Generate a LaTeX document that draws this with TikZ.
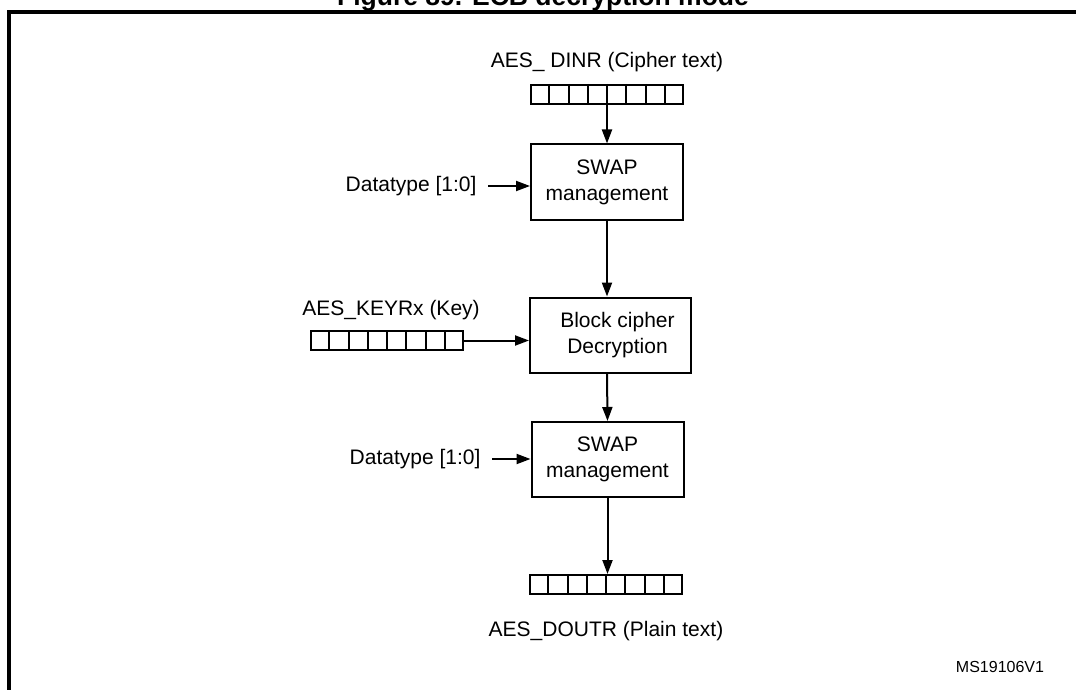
\documentclass[tikz,border=0pt]{standalone}
\usepackage{fontspec}
\setmainfont{Liberation Sans}
\usetikzlibrary{arrows.meta,positioning,calc}

\begin{document}
\begin{tikzpicture}[
  x=1pt, y=-1pt,
  font=\fontsize{21}{26}\selectfont,
  block/.style={rectangle, draw, line width=2pt, minimum width=152pt, minimum height=75pt, align=center, inner sep=0pt},
  reg/.style={rectangle, draw, line width=2pt, minimum width=152pt, minimum height=19pt, inner sep=0pt},
  flow/.style={draw, line width=2pt, -{Triangle[length=14pt,width=10pt]}}
]
  \clip (0,0) rectangle (1076,690);
  % frame and title
  \node[anchor=base, font=\bfseries\fontsize{26.5}{30}\selectfont] (title) at (543,6) {Figure 89. ECB decryption mode};
  \draw[line width=3.5pt] (1080,12) -- (9,12) -- (9,695);

  % registers
  \node[reg] (dinr) at (607,94.5) {};
  \node[reg] (keyr) at (387,340.5) {};
  \node[reg] (doutr) at (606,584.5) {};
  \foreach \r in {dinr,keyr,doutr}
    \foreach \i in {1,...,7}
      \draw[line width=2pt] ($(\r.north west)!\i/8!(\r.north east)$) -- ($(\r.south west)!\i/8!(\r.south east)$);

  \node (dinrlbl) at (607,62) {AES\_ DINR (Cipher text)};
  \node (keylbl) at (391,310) {AES\_KEYRx (Key)};
  \node (doutlbl) at (606,631) {AES\_DOUTR (Plain text)};

  % blocks
  \node[block] (swapA) at (607,182) {SWAP\\management};
  \node[block, minimum width=161pt] (cipher) at (610.5,335) {\hspace*{14pt}Block cipher\\\hspace*{14pt}Decryption};
  \node[block] (swapB) at (607.5,459.5) {SWAP\\management};

  \node[anchor=east] (dtA) at (480,186) {Datatype [1:0]};
  \node[anchor=east] (dtB) at (484,459) {Datatype [1:0]};

  % connectors
  \draw[flow] (dinr.center) -- (swapA.north);
  \draw[flow] (swapA.south) -- (swapA.south |- cipher.north);
  \draw[flow] (swapA.south |- cipher.south) -- (swapB.north);
  \draw[flow] (swapB.south) -- (swapB.south |- doutr.north);
  \draw[flow] (keyr.east) -- (cipher.west |- keyr.east);
  \draw[flow] ([xshift=8pt]dtA.east) -- (swapA.west |- dtA.east);
  \draw[flow] ([xshift=8pt]dtB.east) -- (swapB.west |- dtB.east);

  \node[font=\fontsize{16}{19}\selectfont] (ref) at (1000,667) {MS19106V1};
\end{tikzpicture}
\end{document}
